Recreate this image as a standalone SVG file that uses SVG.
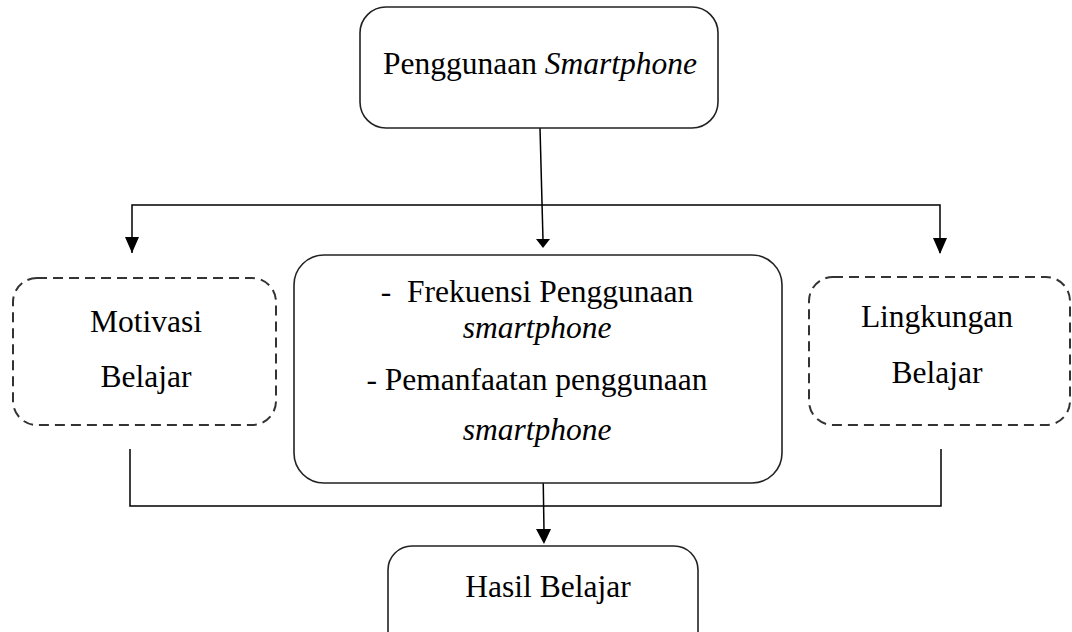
<svg xmlns="http://www.w3.org/2000/svg" width="1072" height="632" viewBox="0 0 1072 632">
<style>
.box{fill:#fff;stroke:#222;stroke-width:1.6}
.dash{fill:#fff;stroke:#333;stroke-width:2;stroke-dasharray:10 6}
.ln{fill:none;stroke:#000;stroke-width:1.5}
.ah{fill:#000;stroke:none}
</style>
<rect width="1072" height="632" fill="#fff"/>
<g id="connectors">
<path class="ln" d="M540 128 L543 240"/>
<path class="ln" d="M132 253 L132 205 L940 205 L940 253"/>
<path class="ln" d="M130 449 L130 506 L941 506 L941 449"/>
<path class="ln" d="M543 467 L544 531"/>
<polygon class="ah" points="536,239 550,239 543,248"/>
<polygon class="ah" points="125,237 139,237 132,253"/>
<polygon class="ah" points="933,238 947,238 940,254"/>
<polygon class="ah" points="536,529 551,529 544,544"/>
</g>
<g font-family="Liberation Serif" font-size="31.5" fill="#000" text-anchor="middle">
<g id="node-penggunaan">
<rect class="box" x="360" y="7" width="358" height="121" rx="26"/>
<text x="540" y="74">Penggunaan <tspan font-style="italic">Smartphone</tspan></text>
</g>
<g id="node-motivasi">
<rect class="dash" x="13" y="278" width="263" height="147" rx="24"/>
<text x="146" y="332">Motivasi</text>
<text x="146" y="387">Belajar</text>
</g>
<g id="node-indikator">
<rect class="box" x="294" y="255" width="488" height="228" rx="30"/>
<text x="537" y="302" xml:space="preserve">-  Frekuensi Penggunaan</text>
<text x="537" y="338" font-style="italic">smartphone</text>
<text x="537" y="390">- Pemanfaatan penggunaan</text>
<text x="537" y="440" font-style="italic">smartphone</text>
</g>
<g id="node-lingkungan">
<rect class="dash" x="809" y="277" width="261" height="148" rx="24"/>
<text x="937" y="327">Lingkungan</text>
<text x="937" y="383">Belajar</text>
</g>
<g id="node-hasil">
<rect class="box" x="388" y="546" width="310" height="110" rx="24"/>
<text x="548" y="597">Hasil Belajar</text>
</g>
</g>
</svg>
